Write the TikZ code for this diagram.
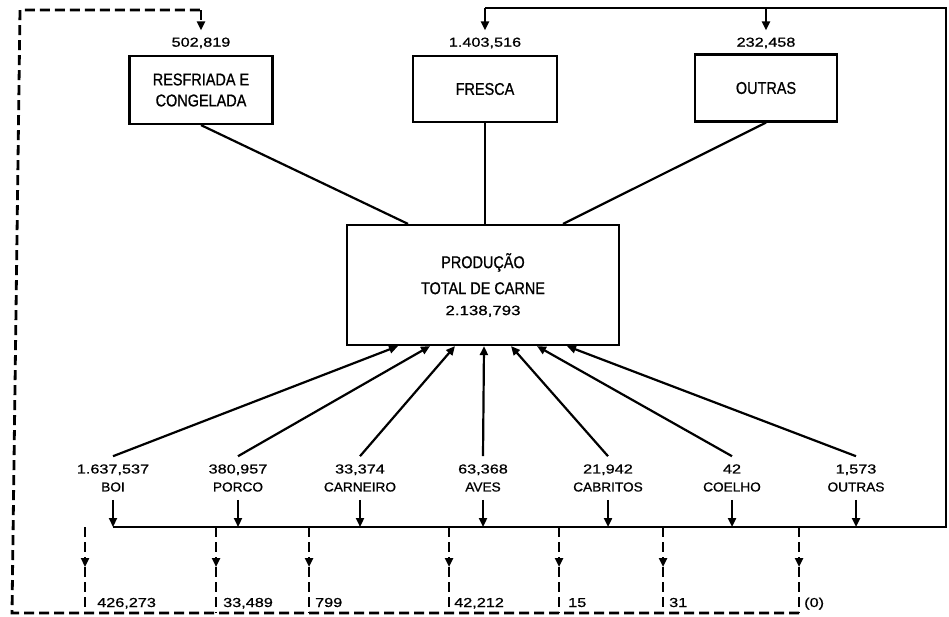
\documentclass[tikz,border=0pt]{standalone}
\usepackage{fontspec}
\setmainfont{Liberation Sans}
\newfontfamily\boxfont[FakeStretch=0.85,FakeBold=0.8]{Liberation Sans}
\newfontfamily\numfont[FakeStretch=1.25,FakeBold=0.8]{Liberation Sans}
\newfontfamily\namefont[FakeStretch=1.05,FakeBold=0.8]{Liberation Sans}
\usetikzlibrary{arrows.meta,calc}
\begin{document}
\begin{tikzpicture}[x=1pt,y=-1pt,
  ln/.style={line width=2.2pt},
  dln/.style={line width=2.8pt, dash pattern=on 10pt off 5pt},
  tip/.style={-{Triangle[length=9pt,width=8pt]}},
  boxn/.style={draw, line width=2.2pt, inner sep=0pt, align=center,
    font=\boxfont\fontsize{17}{21}\selectfont},
  numl/.style={inner sep=1pt, font=\numfont\fontsize{13}{15}\selectfont},
  topl/.style={numl, inner ysep=7pt},
  botl/.style={inner xsep=1pt, inner ysep=8pt, align=center,
    font=\fontsize{13}{18}\selectfont}
]
\useasboundingbox (0,0) rectangle (949,616);
\fill[white] (0,0) rectangle (949,616);

% boxes
\node[boxn, minimum width=143pt, minimum height=68pt] (res) at (201,90) {RESFRIADA E\\CONGELADA};
\node[boxn, minimum width=144pt, minimum height=66pt] (fre) at (485,89) {FRESCA};
\node[boxn, minimum width=142pt, minimum height=67pt] (out) at (766,88) {OUTRAS};
\node[boxn, minimum width=272pt, minimum height=120pt] (tot) at (483,285)
  {PRODUÇÃO\\[5pt]TOTAL DE CARNE\\{\numfont\fontsize{13.5}{15}\selectfont 2.138,793}};

% top values
\node[topl] (nres) at (201,43) {502,819};
\node[topl] (nfre) at (485,43) {1.403,516};
\node[topl] (nout) at (766,43) {232,458};

% box to total
\draw[ln] (res.south) -- ([xshift=-75pt]tot.north);
\draw[ln] (fre.south) -- (fre.south |- tot.north);
\draw[ln] (out.south) -- ([xshift=80pt]tot.north);

% bottom species labels
\node[botl] (boi) at (113,478) {{\numfont 1.637,537}\\{\namefont BOI}};
\node[botl] (por) at (238,478) {{\numfont 380,957}\\{\namefont PORCO}};
\node[botl] (car) at (360,478) {{\numfont 33,374}\\{\namefont CARNEIRO}};
\node[botl] (ave) at (483,478) {{\numfont 63,368}\\{\namefont AVES}};
\node[botl] (cab) at (608,478) {{\numfont 21,942}\\{\namefont CABRITOS}};
\node[botl] (coe) at (732,478) {{\numfont 42}\\{\namefont COELHO}};
\node[botl] (outb) at (856,478) {{\numfont 1,573}\\{\namefont OUTRAS}};

% species to total
\draw[ln,tip] (boi.north) -- ([xshift=-85pt]tot.south);
\draw[ln,tip] (por.north) -- ([xshift=-53pt]tot.south);
\draw[ln,tip] (car.north) -- ([xshift=-28pt]tot.south);
\draw[ln,tip] (ave.north) -- ([xshift=1pt]tot.south);
\draw[ln,tip] (cab.north) -- ([xshift=28pt]tot.south);
\draw[ln,tip] (coe.north) -- ([xshift=54pt]tot.south);
\draw[ln,tip] (outb.north) -- ([xshift=84pt]tot.south);

% bus and feedback to top
\coordinate (busL) at (113,527);
\coordinate (busR) at (946,527);
\coordinate (topR) at (946,8);
\coordinate (topL) at (485,8);
\draw[ln] (busL) -- (busR) -- (topR) -- (topL);
\draw[ln,tip] (topL) -- (nfre.north);
\draw[ln,tip] (nout.north |- topL) -- (nout.north);

\foreach \n in {boi,por,car,ave,cab,coe,outb}{
  \draw[ln,tip] (\n.south) -- (\n.south |- busL);
}

% dashed drops
\foreach \x/\n in {85/1,216/2,309/3,449/4,559/5,663/6,799/7}{
  \coordinate (dt\n) at (\x,527);
  \coordinate (dm\n) at (\x,567);
  \coordinate (db\n) at (\x,613);
  \draw[dln,tip] (dt\n) -- (dm\n);
  \draw[dln] (dm\n) -- (db\n);
}

% dashed return
\coordinate (cBL) at (12,613);
\coordinate (cTL) at (20,10);
\coordinate (cTR) at (201,10);
\draw[dln] (db7) -- (cBL) -- (cTL) -- (cTR);
\draw[dln,tip] (cTR) -- (nres.north);

% bottom values
\node[numl, anchor=base west] (v1) at (96,607) {426,273};
\node[numl, anchor=base west] (v2) at (222,607) {33,489};
\node[numl, anchor=base west] (v3) at (314,607) {799};
\node[numl, anchor=base west] (v4) at (453,607) {42,212};
\node[numl, anchor=base west] (v5) at (567,607) {15};
\node[numl, anchor=base west] (v6) at (668,607) {31};
\node[numl, anchor=base west] (v7) at (803,607) {(0)};
\end{tikzpicture}
\end{document}
